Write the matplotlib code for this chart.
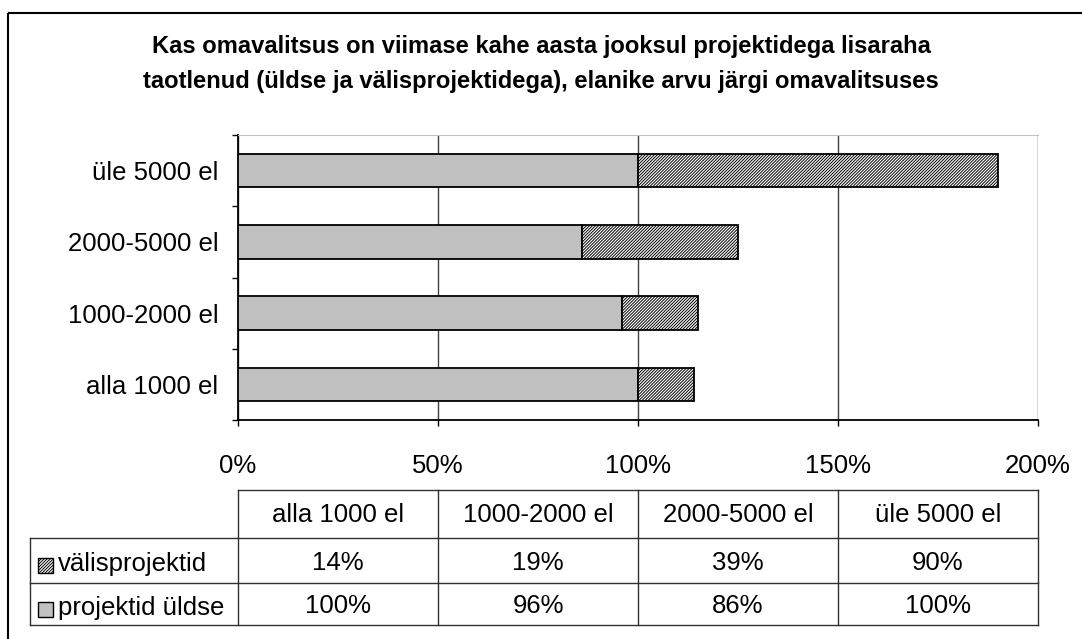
import matplotlib.pyplot as plt
from matplotlib.patches import Rectangle
import numpy as np

plt.rcParams['font.family'] = ['Liberation Sans', 'DejaVu Sans']
plt.rcParams['hatch.linewidth'] = 0.7

title = ("Kas omavalitsus on viimase kahe aasta jooksul projektidega lisaraha\n"
         "taotlenud (üldse ja välisprojektidega), elanike arvu järgi omavalitsuses")
categories = ['alla 1000 el', '1000-2000 el', '2000-5000 el', 'üle 5000 el']
uldse = [100, 96, 86, 100]
valis = [14, 19, 39, 90]
series_names = ['välisprojektid', 'projektid üldse']
xticks = [0, 50, 100, 150, 200]

W, H = 1082, 639
FS = 18.5
HATCH = '/' * 11
fig = plt.figure(figsize=(W / 100, H / 100), dpi=100)

# pixel box -> figure fraction
def px(x0, y0, x1, y1):
    return [x0 / W, 1 - y1 / H, (x1 - x0) / W, (y1 - y0) / H]

ax = fig.add_axes(px(238, 135, 1038, 420))
y = np.arange(len(categories))
ax.barh(y, uldse, height=0.47, color='#c0c0c0', edgecolor='black', linewidth=1.3, zorder=3)
ax.barh(y, valis, left=uldse, height=0.47, color='white', edgecolor='black',
        hatch=HATCH, linewidth=1.3, zorder=3)
ax.set_xlim(0, 200)
ax.set_ylim(-0.5, len(categories) - 0.5)
ax.set_xticks(xticks)
ax.set_xticklabels(['{}%'.format(t) for t in xticks], fontsize=FS)
ax.set_yticks(y)
ax.set_yticklabels(categories, fontsize=FS)
ax.set_yticks(np.arange(-0.5, len(categories)), minor=True)
ax.tick_params(axis='y', which='major', length=0, pad=14)
ax.tick_params(axis='y', which='minor', length=4.5, width=1)
ax.tick_params(axis='x', length=4.5, width=1, pad=20)
ax.grid(axis='x', color='#404040', linewidth=1, zorder=0)
ax.spines['top'].set_color('#c0c0c0')
ax.spines['right'].set_visible(False)
ax.spines['left'].set_linewidth(1.3)
ax.spines['bottom'].set_linewidth(1.3)

# overlay in pixel coords for frame, title, data table
ov = fig.add_axes([0, 0, 1, 1], zorder=-1)
ov.set_xlim(0, W)
ov.set_ylim(H, 0)
ov.axis('off')
ov.add_patch(Rectangle((8, 13), W + 20, H + 20, fill=False, edgecolor='black', linewidth=1.5))
ov.text(541, 64, title, ha='center', va='center', fontsize=17.1, fontweight='bold',
        linespacing=1.65)

col_x = [238, 438, 638, 838, 1038]
rows_y = [490, 538, 583, 625]
lc = '#303030'
ov.plot([238, 1038], [rows_y[0], rows_y[0]], color=lc, lw=1)
for r in rows_y[1:]:
    ov.plot([30, 1038], [r, r], color=lc, lw=1)
for cx in col_x:
    ov.plot([cx, cx], [rows_y[0], rows_y[-1]], color=lc, lw=1)
ov.plot([30, 30], [rows_y[1], rows_y[-1]], color=lc, lw=1)

for i, c in enumerate(categories):
    ov.text((col_x[i] + col_x[i + 1]) / 2, (rows_y[0] + rows_y[1]) / 2 + 1, c,
            ha='center', va='center', fontsize=FS)
table_rows = [valis, uldse]
for r, vals in enumerate(table_rows):
    yc = (rows_y[r + 1] + rows_y[r + 2]) / 2
    for i, v in enumerate(vals):
        ov.text((col_x[i] + col_x[i + 1]) / 2, yc + 2, '{}%'.format(v),
                ha='center', va='center', fontsize=FS)
    ov.text(58, yc + 4, series_names[r], ha='left', va='center', fontsize=FS)

ov.add_patch(Rectangle((38, 558), 15, 15, facecolor='white', edgecolor='black',
                       hatch=HATCH, lw=1))
ov.add_patch(Rectangle((38, 602), 15, 15, facecolor='#c0c0c0', edgecolor='black', lw=1))

fig.savefig('out.png', dpi=100)
